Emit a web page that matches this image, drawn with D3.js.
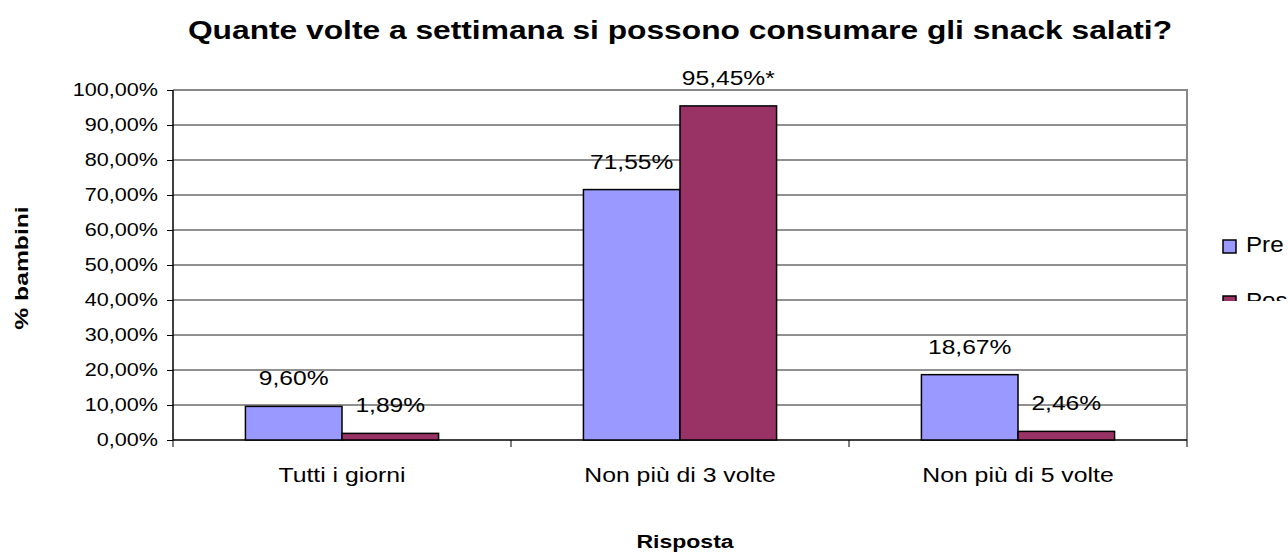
<!DOCTYPE html>
<html>
<head>
<meta charset="utf-8">
<script src="https://cdn.jsdelivr.net/npm/d3@7"></script>
<style>
  body { margin: 0; background: #fff; }
  svg { font-family: "Liberation Sans", Arial, sans-serif; }
</style>
</head>
<body>
<div id="chart"></div>
<script>
"use strict";
// data
const categories = ["Tutti i giorni", "Non più di 3 volte", "Non più di 5 volte"];
const seriesNames = ["Pre", "Pos"];
const preValues = [9.60, 71.55, 18.67];
const posValues = [1.89, 95.45, 2.46];
const posLabels = ["1,89%", "95,45%*", "2,46%"];
const yTicks = [0, 10, 20, 30, 40, 50, 60, 70, 80, 90, 100];
const colors = ["#9999FF", "#993366"];

// the reference text is horizontally stretched; scale each text around its anchor x
function stretch(sel, s) {
    sel.each(function () {
        const x = +this.getAttribute("x") || 0;
        d3.select(this).attr("transform", `translate(${x},0) scale(${s},1) translate(${-x},0)`);
    });
}

function createChart(containerId = "chart") {
    const W = 1288, H = 552;
    const left = 173, right = 1187, top = 90, bottom = 440;

    const svg = d3.select(`#${containerId}`)
        .append("svg")
        .attr("width", W)
        .attr("height", H);

    const x = d3.scaleBand().domain(categories).range([left, right]).padding(0);
    const xi = d3.scaleBand().domain(seriesNames).range([0, x.bandwidth()])
        .paddingOuter(0.75).paddingInner(0);
    const y = d3.scaleLinear().domain([0, 100]).range([bottom, top]);
    const fmt = v => d3.format(".2f")(v).replace(".", ",") + "%";

    // title
    svg.append("text")
        .attr("x", 680).attr("y", 39)
        .attr("text-anchor", "middle")
        .attr("font-size", 25).attr("font-weight", "bold")
        .text("Quante volte a settimana si possono consumare gli snack salati?")
        .call(stretch, 1.27);

    // gridlines
    svg.append("g").selectAll("line")
        .data(yTicks.filter(d => d > 0 && d < 100))
        .enter().append("line")
        .attr("x1", left).attr("x2", right)
        .attr("y1", d => y(d)).attr("y2", d => y(d))
        .attr("stroke", "#222").attr("stroke-width", 1);

    // plot border top / right
    svg.append("path")
        .attr("d", `M${left},${y(100)}H${right}V${bottom}`)
        .attr("fill", "none").attr("stroke", "#888").attr("stroke-width", 2);

    // y axis
    const yAxis = svg.append("g")
        .attr("transform", `translate(${left},0)`)
        .call(d3.axisLeft(y).tickValues(yTicks).tickSize(6).tickPadding(9)
            .tickFormat(d => fmt(d)));
    yAxis.selectAll("text").attr("font-size", 18).attr("fill", "#000")
        .attr("font-family", "Liberation Sans, Arial, sans-serif")
        .call(stretch, 1.2);
    yAxis.selectAll("line, path").attr("stroke", "#000");
    yAxis.select(".domain").attr("d", `M0,${top}V${bottom}`).attr("stroke-width", 1.5);

    // x axis
    const xAxis = svg.append("g")
        .attr("transform", `translate(0,${bottom})`)
        .call(d3.axisBottom(x).tickSize(0).tickPadding(27));
    xAxis.selectAll("text").attr("font-size", 21).attr("fill", "#000")
        .attr("font-family", "Liberation Sans, Arial, sans-serif")
        .call(stretch, 1.18);
    xAxis.select(".domain").attr("d", `M${left},0H${right}`).attr("stroke", "#000").attr("stroke-width", 1.5);
    xAxis.selectAll(".sep")
        .data([left, ...categories.map(c => x(c) + x.bandwidth())])
        .enter().append("line")
        .attr("x1", d => d).attr("x2", d => d)
        .attr("y1", 0).attr("y2", 7)
        .attr("stroke", "#000");

    // bars
    const rows = categories.map((c, i) => ({
        cat: c,
        vals: [
            { s: "Pre", v: preValues[i], label: fmt(preValues[i]) },
            { s: "Pos", v: posValues[i], label: posLabels[i] }
        ]
    }));

    const groups = svg.append("g").selectAll("g")
        .data(rows).enter().append("g")
        .attr("transform", d => `translate(${x(d.cat)},0)`);

    groups.selectAll("rect")
        .data(d => d.vals).enter().append("rect")
        .attr("x", d => xi(d.s))
        .attr("y", d => y(d.v))
        .attr("width", xi.bandwidth())
        .attr("height", d => bottom - y(d.v))
        .attr("fill", (d, i) => colors[i])
        .attr("stroke", "#000").attr("stroke-width", 1.5);

    groups.selectAll("text.val")
        .data(d => d.vals).enter().append("text")
        .attr("class", "val")
        .attr("x", d => xi(d.s) + xi.bandwidth() / 2)
        .attr("y", d => y(d.v) - 21)
        .attr("text-anchor", "middle")
        .attr("font-size", 20)
        .text(d => d.label)
        .call(stretch, 1.23);

    // axis titles
    svg.append("text")
        .attr("transform", "translate(28,268) rotate(-90) scale(1.3,1)")
        .attr("text-anchor", "middle")
        .attr("font-size", 19).attr("font-weight", "bold")
        .text("% bambini");
    svg.append("text")
        .attr("x", 685).attr("y", 548)
        .attr("text-anchor", "middle")
        .attr("font-size", 18).attr("font-weight", "bold")
        .text("Risposta")
        .call(stretch, 1.28);

    // legend (clipped like the reference)
    svg.append("clipPath").attr("id", "legclip")
        .append("rect").attr("x", 1200).attr("y", 200).attr("width", 100).attr("height", 101);
    const leg = svg.append("g").attr("clip-path", "url(#legclip)")
        .selectAll("g").data(seriesNames).enter().append("g")
        .attr("transform", (d, i) => `translate(1223,${240 + i * 56})`);
    leg.append("rect")
        .attr("width", 13).attr("height", 13)
        .attr("fill", (d, i) => colors[i])
        .attr("stroke", "#000").attr("stroke-width", 1.5);
    leg.append("text")
        .attr("x", 23).attr("y", 12)
        .attr("font-size", 22)
        .text(d => d)
        .call(stretch, 1.1);
}

document.addEventListener("DOMContentLoaded", () => createChart());
</script>
</body>
</html>
